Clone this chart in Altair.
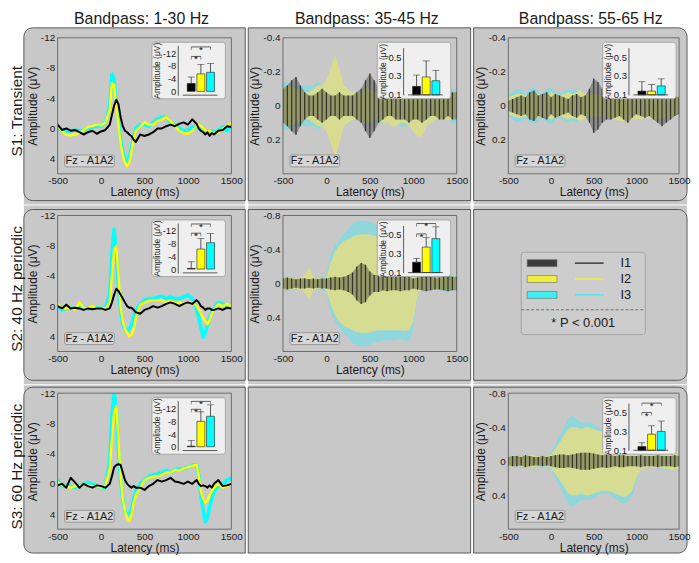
import altair as alt
import pandas as pd

# ------------------------------------------------------------------ data
SERIES = ["I1", "I2", "I3"]
SERIES_COLORS = ["#000000", "#ffff00", "#00ffff"]
COL_TITLES = ["Bandpass: 1-30 Hz", "Bandpass: 35-45 Hz", "Bandpass: 55-65 Hz"]
ROW_TITLES = ["S1: Transient", "S2: 40 Hz periodic", "S3: 60 Hz periodic"]
CHANNEL_LABEL = "Fz - A1A2"
X_TITLE = "Latency (ms)"
Y_TITLE = "Amplitude (\u03bcV)"
LEGEND_NOTE = "* P < 0.001"
X_TICKS = [-500, 0, 500, 1000, 1500]
Y_TICKS_LOW = [-12, -8, -4, 0, 4]
Y_TICKS_GAMMA_S1 = [-0.4, -0.2, 0, 0.2]
Y_TICKS_GAMMA_PER = [-0.8, -0.4, 0, 0.4]
INSET_TICKS_UV = [-12, -8, -4, 0]
INSET_TICKS_SMALL = [0.1, 0.3, 0.5]

# time grid of the 1-30 Hz waveforms (ms)
T_LOW = [-500, -450, -400, -350, -300, -250, -200, -150, -100, -50, 0, 50, 100,
         125, 150, 175, 200, 225, 250, 275, 300, 325, 350, 375,
         400, 450, 500, 550, 600, 650, 700, 750, 800, 850, 900, 950, 1000, 1050, 1100,
         1125, 1150, 1175, 1200, 1225, 1250, 1275,
         1300, 1350, 1400, 1450, 1500]

S1_LOW_I1 = [-0.5, 0.2, 0.0, 0.3, 0.2, 0.5, 0.8, 0.5, 0.3, 0.7,
             0.4, 0.2, -0.5, -1.8, -3.0, -3.8, -3.2, -1.5, -0.3, 0.3,
             0.5, 0.8, 1.0, 1.5, 1.8, 0.8, 1.0, 0.8, 0.5, 0.0,
             0.0, -0.3, -0.5, -0.3, -0.6, -0.8, -0.5, -1.2, -0.6, 0.0,
             0.3, 0.5, 0.8, 0.5, 1.0, 0.6, 0.8, 0.3, 0.2, -0.3, -0.2]
S1_LOW_I2 = [-0.3, 0.3, 0.8, 0.9, 0.8, 0.6, 0.2, -0.2, -0.3, -0.5,
             -0.4, -0.8, -2.5, -6.0, -5.8, -3.0, -0.5, 2.0, 3.5, 4.5,
             5.0, 4.5, 3.0, 1.5, 0.3, -0.2, -0.8, -0.5, -0.5, -1.0,
             -1.2, -1.5, -1.0, -0.3, 0.3, 0.6, 0.7, 0.3, -0.3, -0.5,
             -0.3, 0.0, 0.2, 0.5, 0.3, 0.5, 0.7, 0.5, 0.0, -0.3, -0.7]
S1_LOW_I3 = [0.0, 0.2, 0.4, 0.3, 0.2, 0.3, 0.2, 0.0, -0.2, -0.3,
             -0.3, -0.8, -3.0, -7.2, -6.5, -3.5, -1.0, 1.5, 3.0, 4.0,
             4.4, 3.8, 2.5, 1.0, 0.0, -0.5, -0.5, -0.3, -0.8, -1.3,
             -1.5, -1.5, -0.8, -0.5, 0.0, 0.3, 0.2, -0.2, -0.3, 0.0,
             0.2, 0.3, 0.5, 0.3, 0.5, 0.3, 0.5, 0.3, -0.2, 0.3, -0.5]

S2_LOW_I1 = [0.0, 0.3, -0.2, 0.3, 0.2, 0.3, 0.5, 0.3, 0.4, 0.3,
             0.3, 0.5, 0.3, -0.5, -1.5, -2.3, -2.0, -1.5, -1.0, -0.5,
             0.0, 0.2, 0.2, 0.5, 0.8, 1.0, 0.5, 0.3, 0.0, 0.2,
             0.0, -0.3, -0.5, -0.3, 0.0, -0.3, -0.5, -0.3, -0.8, -0.5,
             0.0, 0.2, 0.5, 0.3, 0.3, 0.5, 0.5, 0.3, 0.5, 0.2, 0.3]
S2_LOW_I2 = [-0.3, 0.3, 0.3, 0.2, 0.5, -0.5, 0.3, 0.2, 0.0, 0.3,
             0.2, 0.3, -0.5, -4.0, -7.5, -8.0, -4.0, 0.0, 2.0, 3.0,
             3.5, 4.0, 3.8, 3.0, 1.5, -0.2, -0.5, -0.7, -0.8, -0.8,
             -0.8, -0.5, -0.8, -0.3, -0.5, -0.3, -0.5, -0.5, 0.0, 0.5,
             1.0, 1.5, 2.0, 2.4, 1.8, 1.0, 0.5, -0.3, 0.0, -0.3, 0.0]
S2_LOW_I3 = [0.0, 0.5, 0.3, 0.2, 0.3, 0.2, 0.3, 0.3, 0.2, 0.2,
             0.2, 0.3, -1.5, -7.0, -10.2, -7.0, -2.5, 0.5, 2.5, 3.0,
             3.3, 3.0, 2.5, 1.5, 0.5, -0.3, -0.8, -1.0, -1.0, -1.2,
             -1.3, -1.0, -1.2, -1.0, -1.0, -1.2, -1.5, -1.0, 0.5, 1.5,
             2.8, 4.1, 3.5, 2.5, 1.5, 0.8, 0.3, -0.5, -0.3, 0.0, 0.3]

S3_LOW_I1 = [0.2, 0.0, 0.5, -0.8, -0.2, 0.5, 0.0, 0.3, 0.5, 0.2,
             0.3, 0.5, 0.0, -1.0, -2.2, -2.5, -2.6, -2.5, -1.5, -0.5,
             0.0, 0.3, 0.5, 0.3, 0.5, 0.5, 0.8, 0.3, 0.0, -0.5,
             -0.3, -0.5, -0.8, -0.3, -0.2, 0.0, -0.3, 0.0, -0.5, 0.0,
             0.3, 0.2, 0.3, 0.5, 0.2, 0.5, 0.0, -0.5, 0.3, 0.2, 0.0]
S3_LOW_I2 = [-0.3, 0.2, 0.3, 0.5, 0.3, 0.3, 0.0, 0.2, 0.3, 0.3,
             0.5, 0.3, -2.0, -6.0, -9.5, -10.3, -6.0, -1.0, 2.0, 3.5,
             4.6, 4.9, 4.0, 2.5, 1.5, 0.5, -0.5, -0.8, -1.0, -1.0,
             -1.2, -1.5, -1.5, -1.8, -1.8, -2.0, -2.2, -2.4, -2.5, -1.0,
             1.0, 2.0, 2.5, 2.2, 1.5, 1.0, 0.5, 0.0, 0.5, 0.3, 0.0]
S3_LOW_I3 = [-0.5, 0.3, 0.2, 0.3, 0.5, 0.2, 0.0, -0.2, 0.0, 0.3,
             0.5, 0.5, -3.0, -9.0, -12.0, -10.0, -4.5, -0.5, 2.0, 3.5,
             4.2, 4.0, 3.3, 2.0, 1.0, 0.0, -0.5, -1.0, -1.2, -1.3,
             -1.5, -1.8, -1.5, -1.8, -2.0, -2.0, -2.2, -2.5, -2.5, -1.0,
             1.5, 3.5, 5.0, 4.5, 3.0, 2.0, 1.0, 0.3, 0.0, -0.5, -0.8]

# time grid of the gamma-band envelopes (ms)
T_ENV = [-500, -450, -400, -350, -300, -250, -200, -150, -100, -50,
         0, 50, 100, 150, 200, 250, 300, 350, 400, 450,
         500, 550, 600, 650, 700, 750, 800, 850, 900, 950,
         1000, 1050, 1100, 1150, 1200, 1250, 1300, 1350, 1400, 1450, 1500]

# half-width of the oscillation envelope (uV)
S1_40_I1 = [.10, .12, .15, .17, .12, .08, .06, .06, .08, .10,
            .08, .06, .06, .08, .06, .06, .06, .08, .10, .15,
            .19, .15, .10, .08, .06, .06, .08, .08, .08, .10,
            .08, .08, .10, .08, .06, .06, .08, .08, .06, .08, .08]
S1_40_I2 = [.10, .12, .12, .10, .10, .08, .08, .10, .12, .12,
            .15, .22, .30, .22, .12, .10, .08, .08, .08, .10,
            .10, .08, .08, .10, .10, .12, .12, .10, .10, .12,
            .15, .18, .18, .12, .10, .08, .08, .08, .08, .08, .08]
S1_40_I3 = [.14, .14, .12, .12, .12, .12, .12, .12, .14, .12,
            .10, .10, .12, .10, .10, .10, .08, .08, .08, .08,
            .08, .08, .10, .10, .10, .10, .10, .12, .12, .12,
            .12, .10, .10, .10, .10, .08, .08, .08, .08, .10, .10]

S1_60_I1 = [.03, .04, .05, .06, .05, .08, .09, .06, .07, .08,
            .05, .07, .06, .05, .04, .06, .07, .05, .06, .10,
            .16, .14, .10, .08, .08, .07, .06, .08, .10, .07,
            .05, .06, .07, .06, .08, .10, .12, .10, .08, .06, .05]
S1_60_I2 = [.05, .06, .07, .07, .06, .07, .08, .07, .06, .07,
            .08, .07, .06, .07, .08, .07, .08, .09, .07, .06,
            .07, .06, .06, .07, .07, .08, .09, .09, .08, .08,
            .08, .08, .07, .07, .08, .08, .07, .07, .07, .06, .06]
S1_60_I3 = [.06, .08, .10, .09, .07, .10, .11, .09, .07, .10,
            .11, .08, .07, .09, .10, .09, .10, .07, .06, .06,
            .06, .05, .06, .06, .07, .07, .06, .07, .07, .06,
            .06, .06, .07, .07, .06, .06, .05, .05, .06, .05, .05]

S2_40_I1 = [.06, .07, .06, .05, .06, .06, .05, .06, .05, .06,
            .06, .07, .08, .07, .08, .10, .13, .20, .24, .22,
            .14, .10, .10, .08, .09, .08, .08, .09, .08, .08,
            .06, .07, .08, .09, .08, .07, .07, .08, .09, .08, .08]
S2_40_I2 = [.06, .07, .07, .06, .07, .10, .20, .08, .06, .06,
            .08, .25, .38, .45, .50, .52, .55, .57, .58, .58,
            .58, .56, .55, .55, .55, .55, .55, .55, .56, .55,
            .45, .12, .08, .07, .07, .08, .07, .07, .07, .08, .08]
S2_40_I3 = [.08, .08, .08, .07, .07, .07, .08, .08, .07, .07,
            .10, .35, .45, .52, .58, .64, .70, .73, .74, .74,
            .72, .70, .68, .67, .67, .67, .66, .66, .67, .68,
            .55, .12, .08, .08, .08, .08, .08, .09, .09, .09, .09]

S3_60_I1 = [.05, .06, .06, .05, .07, .06, .05, .05, .06, .05,
            .06, .07, .08, .08, .07, .08, .09, .10, .10, .10,
            .09, .08, .07, .08, .07, .06, .07, .07, .06, .06,
            .06, .07, .06, .06, .06, .07, .06, .06, .06, .07, .06]
S3_60_I2 = [.06, .07, .06, .06, .07, .08, .07, .06, .06, .06,
            .08, .15, .22, .30, .38, .40, .40, .38, .40, .40,
            .38, .36, .35, .35, .36, .38, .40, .42, .40, .35,
            .20, .10, .08, .07, .08, .08, .08, .09, .10, .10, .08]
S3_60_I3 = [.07, .08, .07, .07, .08, .08, .07, .07, .07, .07,
            .10, .20, .30, .40, .50, .54, .50, .46, .45, .46,
            .44, .40, .38, .38, .40, .44, .47, .50, .48, .40,
            .25, .10, .08, .08, .08, .08, .09, .10, .10, .10, .09]

# inset bar charts: mean, top of error bar, significance brackets (from, to, level)
INS_S1_LOW_MEAN = [-2.5, -5.5, -6.0]
INS_S1_LOW_ERR = [-4.5, -8.5, -8.8]
INS_S1_LOW_SIG = [(1, 2, -11.0), (1, 3, -14.0)]
INS_S1_40_MEAN = [0.19, 0.29, 0.25]
INS_S1_40_ERR = [0.31, 0.46, 0.36]
INS_S1_60_MEAN = [0.14, 0.14, 0.195]
INS_S1_60_ERR = [0.24, 0.21, 0.27]
INS_S2_LOW_MEAN = [-0.2, -6.3, -8.3]
INS_S2_LOW_ERR = [-2.3, -9.6, -11.2]
INS_S2_LOW_SIG = [(1, 2, -11.3), (1, 3, -14.2)]
INS_S2_40_MEAN = [0.21, 0.37, 0.46]
INS_S2_40_ERR = [0.25, 0.47, 0.585]
INS_S2_40_SIG = [(1, 2, 0.51), (1, 3, 0.62)]
INS_S3_LOW_MEAN = [-0.2, -8.0, -9.6]
INS_S3_LOW_ERR = [-2.0, -11.0, -13.2]
INS_S3_LOW_SIG = [(1, 2, -11.8), (1, 3, -14.3)]
INS_S3_60_MEAN = [0.14, 0.27, 0.30]
INS_S3_60_ERR = [0.18, 0.36, 0.41]
INS_S3_60_SIG = [(1, 2, 0.50), (1, 3, 0.60)]

# ------------------------------------------------------------------ style / layout
FONT = "Liberation Sans"
TXT = "#1a1a1a"
GRAY = "#c8c8c8"
EDGE = "#5a5a5a"
H = 137
WIDTHS = [175, 175, 172]
PANEL_X = [(-34, 189), (-35, 189), (-35, 180)]
STROKE_Y = [(-10, 164), (-6, 166), (-6, 161)]
FILL_Y = [(-10, 168), (-10, 170), (-8, 161)]
RAD = 9
COLOR_OF = dict(zip(SERIES, SERIES_COLORS))
one = pd.DataFrame({"k": [0]})


def x_axis():
    return alt.Axis(values=X_TICKS, title=X_TITLE, labelExpr="'' + datum.value",
                    labelFontSize=10, titleFontSize=12, titleFontWeight="normal",
                    labelColor=TXT, titleColor=TXT, labelFont=FONT, titleFont=FONT,
                    ticks=False, domain=False, grid=False, labelPadding=2,
                    titlePadding=1, labelFlush=False, labelOverlap=False, zindex=1)


def y_axis(values):
    return alt.Axis(values=values, title=Y_TITLE, labelExpr="'' + datum.value",
                    labelFontSize=10, titleFontSize=12, titleFontWeight="normal",
                    labelColor=TXT, titleColor=TXT, labelFont=FONT, titleFont=FONT,
                    ticks=False, domain=False, grid=False, labelPadding=3,
                    titlePadding=1, labelOverlap=False, zindex=1)


def background(row, col):
    x0, x1 = PANEL_X[col]
    fy0, fy1 = FILL_Y[row]
    sy0, sy1 = STROKE_Y[row]
    left, right = col == 0, col == 2
    top, bottom = row == 0, row == 2
    fill = alt.Chart(one).mark_rect(
        fill=GRAY,
        cornerRadiusTopLeft=RAD if (left and top) else 0,
        cornerRadiusTopRight=RAD if (right and top) else 0,
        cornerRadiusBottomLeft=RAD if (left and bottom) else 0,
        cornerRadiusBottomRight=RAD if (right and bottom) else 0,
    ).encode(x=alt.value(x0), x2=alt.value(x1), y=alt.value(fy0), y2=alt.value(fy1))
    edge = alt.Chart(one).mark_rect(
        fillOpacity=0, stroke=EDGE, strokeWidth=1,
        cornerRadiusTopLeft=RAD if left else 0,
        cornerRadiusBottomLeft=RAD if left else 0,
        cornerRadiusTopRight=RAD if right else 0,
        cornerRadiusBottomRight=RAD if right else 0,
    ).encode(x=alt.value(x0), x2=alt.value(x1), y=alt.value(sy0), y2=alt.value(sy1))
    return [fill, edge]


def titles(row, col, w):
    out = []
    if row == 0 and col == 0:
        # invisible anchor fixing the top-left corner of the figure
        out.append(alt.Chart(one).mark_rect(opacity=0).encode(
            x=alt.value(-49), x2=alt.value(-48), y=alt.value(-26), y2=alt.value(-25)))
    if row == 0:
        out.append(alt.Chart(one).mark_text(fontSize=16, baseline="alphabetic", align="center",
                                            color=TXT, font=FONT).encode(
            x=alt.value(w / 2 - 3), y=alt.value(-14), text=alt.value(COL_TITLES[col])))
    if col == 0:
        out.append(alt.Chart(one).mark_text(fontSize=15.5, baseline="middle", align="center",
                                            angle=270, color=TXT, font=FONT).encode(
            x=alt.value(-41), y=alt.value(74), text=alt.value(ROW_TITLES[row])))
    return out


def low_plot(series, yticks):
    xs = alt.Scale(domain=[-500, 1500], nice=False, zero=False)
    ys = alt.Scale(domain=[-12, 6], reverse=True, nice=False, zero=False)
    layers = []
    for name, sw in (("I3", 3.6), ("I2", 2.4), ("I1", 2.0)):
        df = pd.DataFrame({"t": T_LOW, "v": series[name]})
        layers.append(alt.Chart(df).mark_line(color=COLOR_OF[name], strokeWidth=sw,
                                              clip=True, strokeJoin="round").encode(
            x=alt.X("t:Q", scale=xs, axis=x_axis()),
            y=alt.Y("v:Q", scale=ys, axis=y_axis(yticks))))
    return alt.layer(*layers)


ENV_FILL = {"I3": ("#8fd7dd", 1.0), "I2": ("#dadc8c", 0.95), "I1": ("#2a2a22", 0.38)}


def env_plot(series, ydom, yticks):
    xs = alt.Scale(domain=[-500, 1500], nice=False, zero=False)
    ys = alt.Scale(domain=ydom, reverse=True, nice=False, zero=False)
    layers = []
    for name in ("I3", "I2", "I1"):
        color, op = ENV_FILL[name]
        df = pd.DataFrame({"t": T_ENV, "a": series[name]})
        layers.append(alt.Chart(df).transform_calculate(lo="-datum.a").mark_area(
            color=color, opacity=op, clip=True).encode(
            x=alt.X("t:Q", scale=xs, axis=x_axis()),
            y=alt.Y("lo:Q", scale=ys, axis=y_axis(yticks)),
            y2=alt.Y2("a:Q")))
    # the black oscillation drawn as vertical strokes spanning its envelope
    dfb = pd.DataFrame({"t": T_ENV, "a": series["I1"]})
    layers.append(alt.Chart(dfb).transform_calculate(lo="-datum.a").mark_rule(
        color="#1e1e1e", strokeWidth=1.2, opacity=0.85, clip=True).encode(
        x=alt.X("t:Q", scale=xs, axis=x_axis()),
        y=alt.Y("lo:Q", scale=ys, axis=y_axis(yticks)),
        y2=alt.Y2("a:Q")))
    return alt.layer(*layers)


def frame_and_label(w):
    frame = alt.Chart(one).mark_rect(fillOpacity=0, stroke="#555555", strokeWidth=0.8).encode(
        x=alt.value(0), x2=alt.value(w), y=alt.value(0), y2=alt.value(H))
    box = alt.Chart(one).mark_rect(fill="#d6d6d6", stroke="#8a8a8a", strokeWidth=0.8,
                                   cornerRadius=2).encode(
        x=alt.value(7), x2=alt.value(57), y=alt.value(118), y2=alt.value(130))
    txt = alt.Chart(one).mark_text(fontSize=11, color=TXT, font=FONT).encode(
        x=alt.value(32), y=alt.value(124.5), text=alt.value(CHANNEL_LABEL))
    return [frame, box, txt]


def inset(mean, err, sig, uv):
    if uv:
        ys = alt.Scale(domain=[-14.5, 1.2], range=[7.6, 57.8], nice=False, zero=False)
        ticks, base, bottom = INSET_TICKS_UV, 0.0, 1.2
    else:
        ys = alt.Scale(domain=[0.1, 0.6], range=[57.5, 10], nice=False, zero=False)
        ticks, base, bottom = INSET_TICKS_SMALL, 0.1, 0.1
    xs = alt.Scale(domain=[0.12, 3.72], range=[121, 166], nice=False, zero=False)
    yax = alt.Axis(orient="left", offset=-121, values=ticks, title=Y_TITLE,
                   labelExpr="'' + datum.value", labelFontSize=9.5, titleFontSize=8.5,
                   titleFontWeight="normal", labelColor=TXT, titleColor=TXT,
                   labelFont=FONT, titleFont=FONT, ticks=False, domain=True,
                   domainColor="#333333", domainWidth=0.8, grid=False, labelPadding=2,
                   titlePadding=1, labelOverlap=False, zindex=1)
    df = pd.DataFrame({"pos": [1, 2, 3], "name": SERIES, "v": mean, "e": err,
                       "base": [base] * 3})
    bars = alt.Chart(df).mark_bar(size=8, stroke="#222222", strokeWidth=0.6).encode(
        x=alt.X("pos:Q", scale=xs, axis=None),
        y=alt.Y("v:Q", scale=ys, axis=yax), y2=alt.Y2("base:Q"),
        color=alt.Color("name:N", scale=alt.Scale(domain=SERIES, range=SERIES_COLORS),
                        legend=None))
    errs = alt.Chart(df).mark_rule(color="#333333", strokeWidth=0.8).encode(
        x=alt.X("pos:Q", scale=xs, axis=None),
        y=alt.Y("v:Q", scale=ys, axis=yax), y2=alt.Y2("e:Q"))
    caps = alt.Chart(df).mark_tick(orient="horizontal", size=7, thickness=0.8,
                                   color="#333333").encode(
        x=alt.X("pos:Q", scale=xs, axis=None), y=alt.Y("e:Q", scale=ys, axis=yax))
    base_df = pd.DataFrame({"a": [0.12], "b": [3.72], "lvl": [bottom]})
    baseline = alt.Chart(base_df).mark_rule(color="#333333", strokeWidth=0.8).encode(
        x=alt.X("a:Q", scale=xs, axis=None), x2=alt.X2("b:Q"),
        y=alt.Y("lvl:Q", scale=ys, axis=yax))
    box = alt.Chart(one).mark_rect(fill="#efefef", stroke="#9a9a9a", strokeWidth=0.8,
                                   cornerRadius=3).encode(
        x=alt.value(95), x2=alt.value(169), y=alt.value(4.5), y2=alt.value(61.5))
    layers = [bars, errs, caps, baseline]
    if sig:
        sdf = pd.DataFrame({"a": [s[0] for s in sig], "b": [s[1] for s in sig],
                            "lvl": [s[2] for s in sig]})
        edf = pd.DataFrame({"e": [s[0] for s in sig] + [s[1] for s in sig],
                            "lvl": [s[2] for s in sig] * 2})
        layers.append(alt.Chart(sdf).mark_rule(color="#222222", strokeWidth=0.7).encode(
            x=alt.X("a:Q", scale=xs, axis=None), x2=alt.X2("b:Q"),
            y=alt.Y("lvl:Q", scale=ys, axis=yax)))
        layers.append(alt.Chart(edf).mark_tick(orient="vertical", size=3, thickness=0.7,
                                               yOffset=1.5, color="#222222").encode(
            x=alt.X("e:Q", scale=xs, axis=None), y=alt.Y("lvl:Q", scale=ys, axis=yax)))
        layers.append(alt.Chart(sdf).transform_calculate(mid="(datum.a + datum.b) / 2")
                      .mark_text(text="*", fontSize=10, dy=3, color="#111111", font=FONT)
                      .encode(x=alt.X("mid:Q", scale=xs, axis=None),
                              y=alt.Y("lvl:Q", scale=ys, axis=yax)))
    return box, alt.layer(*layers)


def data_cell(row, col, plot, ins):
    w = WIDTHS[col]
    box, ins_layer = ins
    fr = frame_and_label(w)
    layers = background(row, col) + [plot, fr[0], fr[1], fr[2], box, ins_layer] + titles(row, col, w)
    return alt.layer(*layers).properties(width=w, height=H).resolve_scale(
        x="independent", y="independent")


def legend_cell(row, col):
    w = WIDTHS[col]
    ldf = pd.DataFrame({"name": SERIES})
    ly = alt.Scale(type="point", domain=SERIES, range=[48, 80], padding=0)
    lc = alt.Scale(domain=SERIES, range=SERIES_COLORS)
    box = alt.Chart(one).mark_rect(fill="#cdcdcd", stroke="#9a9a9a", strokeWidth=0.8,
                                   cornerRadius=3).encode(
        x=alt.value(13), x2=alt.value(138), y=alt.value(37), y2=alt.value(120))
    swatch = alt.Chart(ldf).mark_tick(orient="horizontal", size=30, thickness=7,
                                      stroke="#444444", strokeWidth=0.6).encode(
        x=alt.value(34), y=alt.Y("name:N", scale=ly, axis=None),
        color=alt.Color("name:N", scale=lc, legend=None))
    line = alt.Chart(ldf).mark_tick(orient="horizontal", size=29, thickness=1.5).encode(
        x=alt.value(81.5), y=alt.Y("name:N", scale=ly, axis=None),
        color=alt.Color("name:N", scale=lc, legend=None))
    lab = alt.Chart(ldf).mark_text(align="left", baseline="middle", fontSize=13,
                                   color=TXT, font=FONT).encode(
        x=alt.value(113), y=alt.Y("name:N", scale=ly, axis=None), text="name:N")
    dash = alt.Chart(one).mark_rule(strokeDash=[3, 2], color="#555555", strokeWidth=0.8).encode(
        x=alt.value(13), x2=alt.value(138), y=alt.value(95))
    note = alt.Chart(one).mark_text(fontSize=13, color=TXT, font=FONT, baseline="middle").encode(
        x=alt.value(75.5), y=alt.value(108), text=alt.value(LEGEND_NOTE))
    layers = background(row, col) + [box, swatch, line, lab, dash, note]
    return alt.layer(*layers).properties(width=w, height=H).resolve_scale(
        x="independent", y="independent")


def empty_cell(row, col):
    return alt.layer(*background(row, col)).properties(width=WIDTHS[col], height=H)


cells = [
    data_cell(0, 0, low_plot({"I1": S1_LOW_I1, "I2": S1_LOW_I2, "I3": S1_LOW_I3}, Y_TICKS_LOW),
              inset(INS_S1_LOW_MEAN, INS_S1_LOW_ERR, INS_S1_LOW_SIG, True)),
    data_cell(0, 1, env_plot({"I1": S1_40_I1, "I2": S1_40_I2, "I3": S1_40_I3}, [-0.4, 0.4], Y_TICKS_GAMMA_S1),
              inset(INS_S1_40_MEAN, INS_S1_40_ERR, [], False)),
    data_cell(0, 2, env_plot({"I1": S1_60_I1, "I2": S1_60_I2, "I3": S1_60_I3}, [-0.4, 0.4], Y_TICKS_GAMMA_S1),
              inset(INS_S1_60_MEAN, INS_S1_60_ERR, [], False)),
    data_cell(1, 0, low_plot({"I1": S2_LOW_I1, "I2": S2_LOW_I2, "I3": S2_LOW_I3}, Y_TICKS_LOW),
              inset(INS_S2_LOW_MEAN, INS_S2_LOW_ERR, INS_S2_LOW_SIG, True)),
    data_cell(1, 1, env_plot({"I1": S2_40_I1, "I2": S2_40_I2, "I3": S2_40_I3}, [-0.8, 0.8], Y_TICKS_GAMMA_PER),
              inset(INS_S2_40_MEAN, INS_S2_40_ERR, INS_S2_40_SIG, False)),
    legend_cell(1, 2),
    data_cell(2, 0, low_plot({"I1": S3_LOW_I1, "I2": S3_LOW_I2, "I3": S3_LOW_I3}, Y_TICKS_LOW),
              inset(INS_S3_LOW_MEAN, INS_S3_LOW_ERR, INS_S3_LOW_SIG, True)),
    empty_cell(2, 1),
    data_cell(2, 2, env_plot({"I1": S3_60_I1, "I2": S3_60_I2, "I3": S3_60_I3}, [-0.8, 0.8], Y_TICKS_GAMMA_PER),
              inset(INS_S3_60_MEAN, INS_S3_60_ERR, INS_S3_60_SIG, False)),
]

chart = alt.concat(*cells, columns=3, spacing={"row": 42, "column": 52}, bounds="flush")
chart = chart.properties(padding=0, background="white").configure_view(stroke=None).configure(font=FONT)

chart.save("out.html", embed_options={"renderer": "svg", "actions": False})
